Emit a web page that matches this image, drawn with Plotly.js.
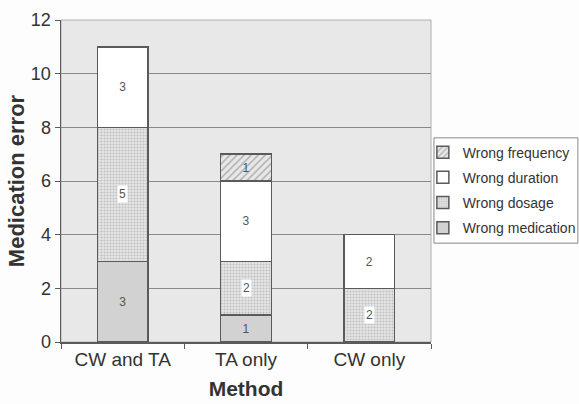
<!DOCTYPE html>
<html><head><meta charset="utf-8">
<script src="https://cdn.plot.ly/plotly-3.0.1.min.js"></script>
<style>html,body{margin:0;padding:0;background:#fdfdfd}</style>
</head><body><div id="chart" style="width:579px;height:404px"></div>
<script>
const categories = ["CW and TA", "TA only", "CW only"];
const wrongMedication = [3, 1, 0];
const wrongDosage = [5, 2, 2];
const wrongDuration = [3, 3, 2];
const wrongFrequency = [0, 1, 0];
const yTicks = [0, 2, 4, 6, 8, 10, 12];

const FONT = "Liberation Sans, Arial, sans-serif";
const lbl = arr => arr.map(v => v ? String(v) : "");
const common = {
  type: "bar", x: categories, textposition: "inside", insidetextanchor: "middle",
  textfont: {family: FONT, size: 12, color: "#555"},
  constraintext: "none", hoverinfo: "skip"
};
const line = {color: "#5a5a5a", width: 1.5};
const traces = [
  Object.assign({}, common, {name: "Wrong medication", legendgroup: "a", legendrank: 4, y: wrongMedication, text: lbl(wrongMedication),
    marker: {color: "#d2d2d2", line: line}}),
  Object.assign({}, common, {name: "Wrong dosage", legendgroup: "b", legendrank: 3, y: wrongDosage, text: wrongDosage.map(() => ""),
    marker: {color: "#e2e2e2", line: line, pattern: {shape: ".", fgcolor: "#c0c0c0", bgcolor: "#e6e6e6", size: 3, solidity: 0.4}}}),
  Object.assign({}, common, {name: "Wrong duration", legendgroup: "c", legendrank: 2, y: wrongDuration, text: lbl(wrongDuration),
    marker: {color: "#ffffff", line: line}}),
  Object.assign({}, common, {name: "Wrong frequency", legendgroup: "d", legendrank: 1, y: wrongFrequency, text: lbl(wrongFrequency),
    marker: {color: "#e4e4e4", line: line, pattern: {shape: "/", fgcolor: "#b0b0b0", bgcolor: "#e8e8e8", size: 5, solidity: 0.3}}})
];
// white-boxed labels for the dosage segments, placed in data coordinates
const dosageLabels = categories.map((c, i) => ({
  x: c, y: wrongMedication[i] + wrongDosage[i] / 2, xref: "x", yref: "y",
  text: String(wrongDosage[i]), showarrow: false, bgcolor: "#ffffff", borderpad: 1,
  font: {family: FONT, size: 12, color: "#555"}
})).filter((a, i) => wrongDosage[i] > 0);

const layout = {
  width: 579, height: 404,
  margin: {l: 61, r: 148, t: 20, b: 62, autoexpand: false},
  paper_bgcolor: "#fdfdfd", plot_bgcolor: "#e8e8e8",
  barmode: "stack", bargap: 0.59,
  font: {family: FONT, color: "#333"},
  showlegend: true,
  legend: {traceorder: "grouped", x: 0.978, xanchor: "left", y: 0.638, yanchor: "top",
    bgcolor: "rgba(0,0,0,0)", borderwidth: 0,
    font: {family: FONT, size: 14, color: "#333"}, tracegroupgap: 4, itemwidth: 30},
  xaxis: {
    title: {text: "Method", font: {family: FONT, size: 21, color: "#333", weight: "bold"}, standoff: 12},
    tickfont: {family: FONT, size: 19, color: "#333"}, showline: true, linecolor: "#5a5a5a", linewidth: 1.5,
    ticks: "outside", tickson: "boundaries", ticklen: 5, tickcolor: "#5a5a5a",
    showgrid: false
  },
  yaxis: {
    title: {text: "Medication error", font: {family: FONT, size: 22, color: "#333", weight: "bold"}, standoff: 0},
    range: [0, 12], tickvals: yTicks, ticktext: yTicks.map(String),
    tickfont: {family: FONT, size: 18, color: "#333"}, showline: true, linecolor: "#5a5a5a", linewidth: 1.5,
    ticks: "outside", ticklen: 5, tickcolor: "#5a5a5a",
    showgrid: true, gridcolor: "#8a8a8a", gridwidth: 1, zeroline: false
  },
  annotations: dosageLabels,
  shapes: [
    {type: "rect", xref: "paper", yref: "paper", x0: 0, x1: 1, y0: 0, y1: 1,
      line: {color: "#b0b0b0", width: 1}, layer: "below"},
    {type: "rect", xref: "paper", yref: "paper", x0: 1.008, x1: 1.397, y0: 0.307, y1: 0.634,
      line: {color: "#888", width: 1}, fillcolor: "#ffffff", layer: "below"}
  ]
};
Plotly.newPlot("chart", traces, layout, {displayModeBar: false, staticPlot: true});
</script></body></html>
